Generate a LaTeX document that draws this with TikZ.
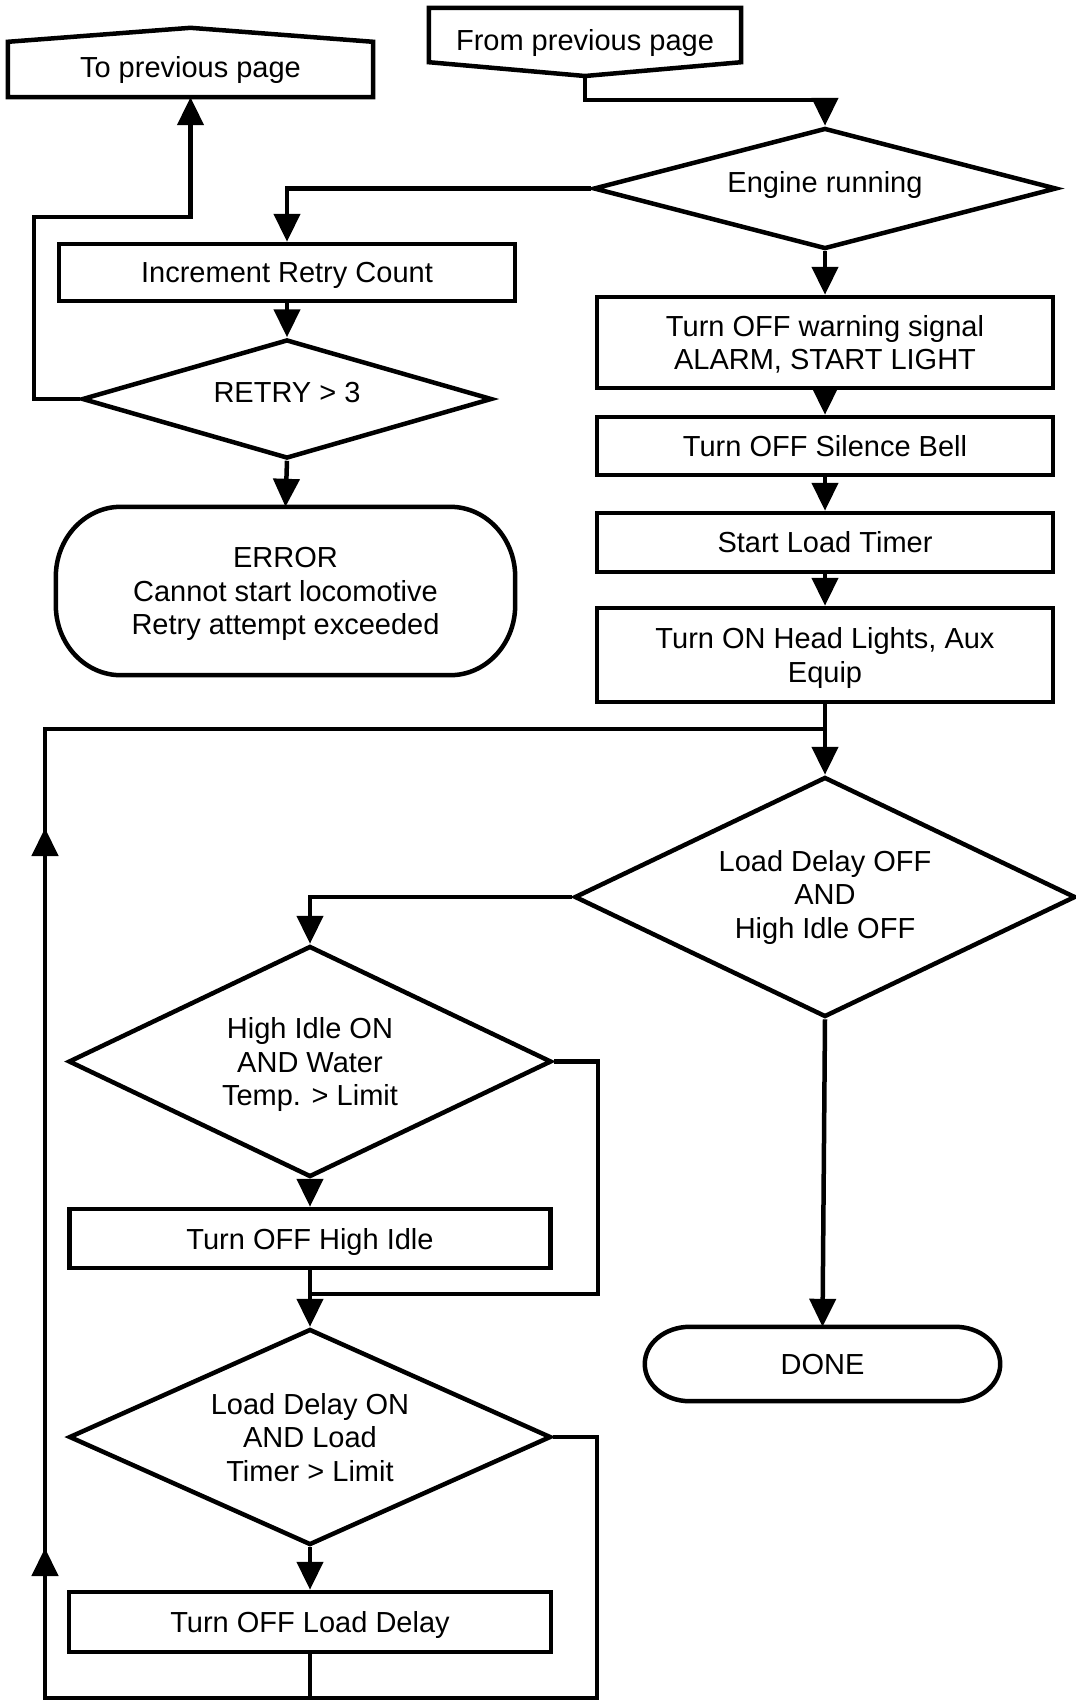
\documentclass[tikz,border=0pt]{standalone}
\usepackage{fontspec}
\setmainfont{Liberation Sans}
\usetikzlibrary{arrows.meta,shapes.geometric,calc}

% rounded terminal outline with elliptical corners around a named node
\newcommand{\terminalpath}[3]{%
  \draw[flowline]
    ($(#1.north west)+(#2,0)$) -- ($(#1.north east)+(-#2,0)$)
    arc[start angle=-90,end angle=0,x radius=#2,y radius=#3]
    -- ($(#1.south east)+(0,-#3)$)
    arc[start angle=0,end angle=90,x radius=#2,y radius=#3]
    -- ($(#1.south west)+(#2,0)$)
    arc[start angle=90,end angle=180,x radius=#2,y radius=#3]
    -- ($(#1.north west)+(0,#3)$)
    arc[start angle=180,end angle=270,x radius=#2,y radius=#3]
    -- cycle;}

\begin{document}
\begin{tikzpicture}[x=1pt,y=-1pt,
  every node/.style={font=\fontsize{29}{33.5}\selectfont, align=center, inner sep=0pt},
  flowline/.style={line width=4.5pt},
  arrow/.style={flowline, -{Triangle[length=28pt,width=26pt]}},
  plain/.style={rectangle},
  lowtext/.style={text depth=0pt},
  procbox/.style={draw, rectangle, line width=4.5pt},
  decision/.style={draw, diamond, line width=4.5pt}]

\useasboundingbox (0,0) rectangle (1076,1701);

% off-page connectors
\node[plain, minimum width=365pt, minimum height=55pt] (toprev) at (190.5,69.5) {To previous page};
\draw[flowline] (toprev.south west) -- (toprev.north west) -- ($(toprev.north)+(0,-14)$)
  -- (toprev.north east) -- (toprev.south east) -- cycle;

\node[plain, minimum width=312pt, minimum height=54pt, text height=30pt, text depth=0pt] (fromprev) at (585,35) {From previous page};
\coordinate (fptip) at (585,76);
\draw[flowline] (fromprev.north west) -- (fromprev.north east) -- (fromprev.south east)
  -- (fptip) -- (fromprev.south west) -- cycle;

% retry branch
\node[decision, minimum width=463pt, minimum height=121pt, aspect=3.8, text depth=12.5pt] (engine) at (825,188.5) {Engine running};
\node[procbox, lowtext, minimum width=456pt, minimum height=57pt] (incr) at (287,272.5) {Increment Retry Count};
\node[decision, minimum width=410pt, minimum height=119pt, aspect=3.4, text depth=14pt] (retry) at (287,399) {RETRY > 3};
\node[plain, lowtext, minimum width=459pt, minimum height=168pt] (err) at (285.5,591)
  {ERROR\\Cannot start locomotive\\Retry attempt exceeded};
\terminalpath{err}{65}{70}

% start-up sequence
\node[procbox, lowtext, minimum width=456pt, minimum height=91pt] (warn) at (825,342.5)
  {Turn OFF warning signal\\ALARM, START LIGHT};
\node[procbox, minimum width=456pt, minimum height=58pt] (bell) at (825,446) {Turn OFF Silence Bell};
\node[procbox, minimum width=456pt, minimum height=59pt] (timer) at (825,542.5) {Start Load Timer};
\node[procbox, lowtext, minimum width=456pt, minimum height=94pt] (lights) at (825,655)
  {Turn ON Head Lights, Aux\\Equip};

% load / idle loop
\node[decision, minimum width=501pt, minimum height=240pt, aspect=2.09] (ldoff) at (825,897)
  {Load Delay OFF\\AND\\High Idle OFF};
\node[decision, lowtext, minimum width=483pt, minimum height=231pt, aspect=2.09] (hion) at (310,1061.5)
  {High Idle ON\\AND Water\\Temp. > Limit};
\node[procbox, lowtext, minimum width=481pt, minimum height=59pt] (hioff) at (310,1238.5) {Turn OFF High Idle};
\node[decision, lowtext, minimum width=482pt, minimum height=216pt, aspect=2.23] (ldon) at (310,1437)
  {Load Delay ON\\AND Load\\Timer > Limit};
\node[procbox, lowtext, minimum width=482pt, minimum height=60pt] (ldbox) at (310,1622) {Turn OFF Load Delay};
\node[plain, minimum width=355pt, minimum height=74pt] (done) at (822.5,1364) {DONE};
\terminalpath{done}{45}{37}

% connectors
\coordinate (fpbend) at (585,100);
\draw[arrow] (fptip) -- (fpbend) -| (engine.north);
\draw[arrow] (engine.west) -| (incr.north);
\draw[arrow] (incr.south) -- (retry.north);
\draw[arrow] (retry.south) -- (err.north);
\coordinate (rl) at (34,217);
\draw[arrow] (retry.west) -| (rl) -| (toprev.south);

\draw[arrow] (engine.south) -- (warn.north);
\draw[arrow] (warn.south) -- (bell.north);
\draw[arrow] (bell.south) -- (timer.north);
\draw[arrow] (timer.south) -- (lights.north);
\draw[arrow] (lights.south) -- (ldoff.north);

\draw[arrow] (ldoff.west) -| (hion.north);
\draw[arrow] (ldoff.south) -- (done.north);
\draw[arrow] (hion.south) -- (hioff.north);
\coordinate (hiR) at (598,1294);
\draw[flowline] (hion.east) -| (hiR) -- (hioff.south |- hiR);
\draw[arrow] (hioff.south) -- (ldon.north);
\draw[arrow] (ldon.south) -- (ldbox.north);

\coordinate (loopTL) at (45,729);
\coordinate (loopBL) at (45,1698);
\coordinate (loopBR) at (597,1698);
\coordinate (up1) at (45,1548);
\coordinate (up2) at (45,828);
\draw[flowline] (ldon.east) -| (loopBR) -- (loopBL) -- (loopTL) -- (lights.south |- loopTL);
\draw[flowline] (ldbox.south) -- (ldbox.south |- loopBL);
\draw[arrow] (loopBL) -- (up1);
\draw[arrow] (up1) -- (up2);
\end{tikzpicture}
\end{document}
